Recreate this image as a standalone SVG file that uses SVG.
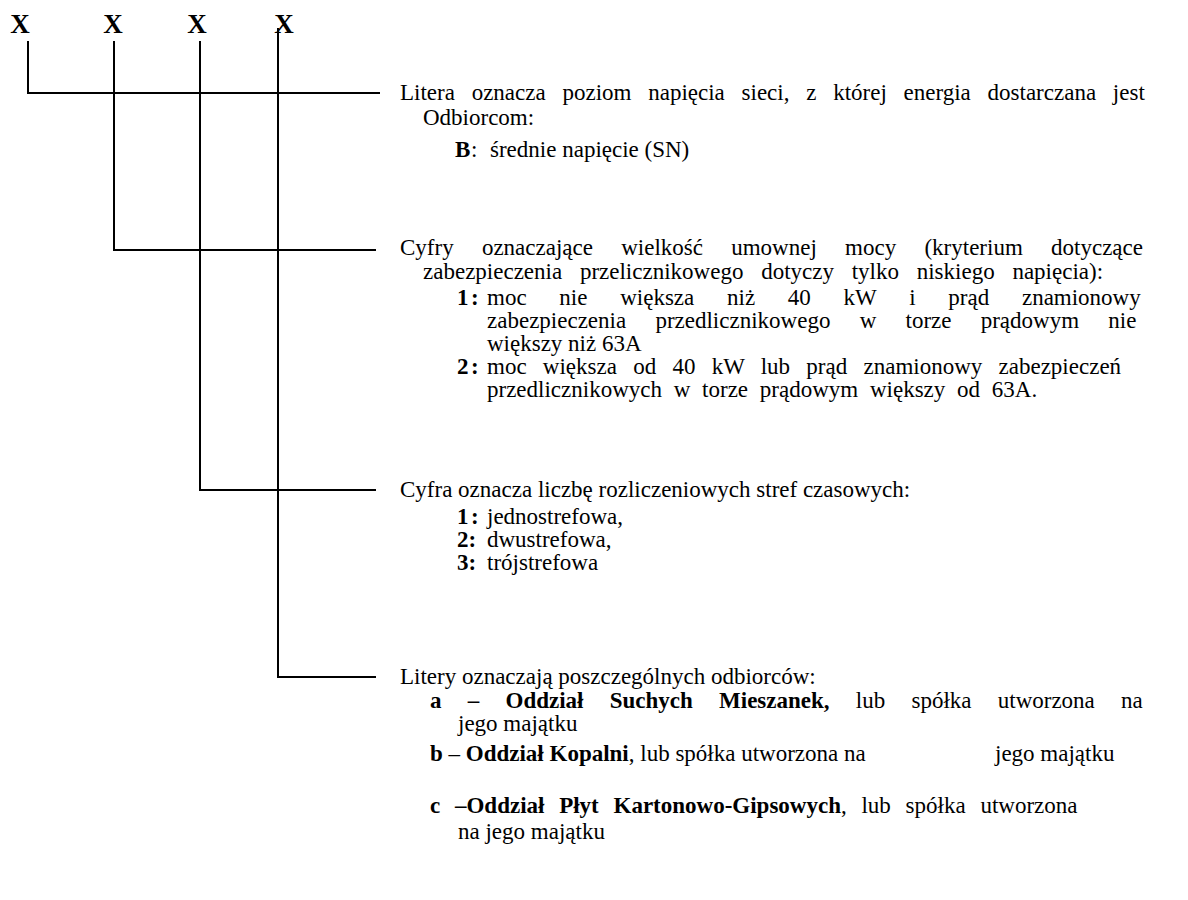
<svg xmlns="http://www.w3.org/2000/svg" width="1188" height="900" viewBox="0 0 1188 900">
<style>
text{font-family:"Liberation Serif","Times New Roman",serif;font-size:23px;fill:#000}
.b{font-weight:bold}
.x{font-size:27px;font-weight:bold;text-anchor:middle}
.ln{stroke:#000;stroke-width:2;fill:none}
</style>
<rect width="1188" height="900" fill="#fff"/>
<g id="letters">
<text class="x" x="20" y="33">X</text>
<text class="x" x="113" y="33">X</text>
<text class="x" x="197" y="33">X</text>
<text class="x" x="284" y="33">X</text>
</g>
<g id="connectors">
<path class="ln" d="M28 41V93H380"/>
<path class="ln" d="M114 41V250H376"/>
<path class="ln" d="M200 41V490H376"/>
<path class="ln" d="M278 28V677H376"/>
</g>
<g id="node-napiecie">
<text x="400" y="100" style="word-spacing:11px">Litera oznacza poziom napięcia sieci, z której energia dostarczana jest</text>
<text x="423" y="125">Odbiorcom:</text>
<text y="157"><tspan class="b" x="455">B</tspan><tspan x="471">:</tspan><tspan x="490">średnie napięcie  (SN)</tspan></text>
</g>
<g id="node-moc">
<text x="400" y="255" style="word-spacing:22.5px">Cyfry oznaczające wielkość umownej mocy (kryterium dotyczące</text>
<text x="423" y="279" style="word-spacing:12px">zabezpieczenia przelicznikowego dotyczy tylko niskiego napięcia):</text>
<text y="305"><tspan class="b" x="457">1</tspan><tspan class="b" x="471">:</tspan><tspan x="487" style="word-spacing:27px">moc nie większa niż 40 kW i prąd znamionowy</tspan></text>
<text x="487" y="328" style="word-spacing:23.5px">zabezpieczenia przedlicznikowego w torze prądowym nie</text>
<text x="487" y="351">większy niż 63A</text>
<text y="374"><tspan class="b" x="457">2</tspan><tspan class="b" x="471">:</tspan><tspan x="487" style="word-spacing:10.5px">moc większa od 40 kW lub prąd znamionowy zabezpieczeń</tspan></text>
<text x="487" y="397" style="word-spacing:6px">przedlicznikowych w torze prądowym większy od 63A.</text>
</g>
<g id="node-strefy">
<text x="400" y="497">Cyfra oznacza liczbę rozliczeniowych stref czasowych:</text>
<text y="524"><tspan class="b" x="457">1</tspan><tspan class="b" x="471">:</tspan><tspan x="487">jednostrefowa,</tspan></text>
<text y="547"><tspan class="b" x="457">2:</tspan><tspan x="487">dwustrefowa,</tspan></text>
<text y="570"><tspan class="b" x="457">3:</tspan><tspan x="487">trójstrefowa</tspan></text>
</g>
<g id="node-odbiorcy">
<text x="400" y="684">Litery oznaczają poszczególnych odbiorców:</text>
<text x="430" y="708" style="word-spacing:20.5px"><tspan class="b">a – Oddział Suchych Mieszanek,</tspan> lub spółka utworzona na</text>
<text x="458" y="731">jego majątku</text>
<text y="761"><tspan x="430" class="b">b</tspan> – <tspan class="b">Oddział Kopalni</tspan>, lub spółka utworzona na<tspan x="995">jego majątku</tspan></text>
<text x="430" y="813" style="word-spacing:9px"><tspan class="b">c –Oddział Płyt Kartonowo-Gipsowych</tspan>, lub spółka utworzona</text>
<text x="458" y="839">na jego majątku</text>
</g>
</svg>
